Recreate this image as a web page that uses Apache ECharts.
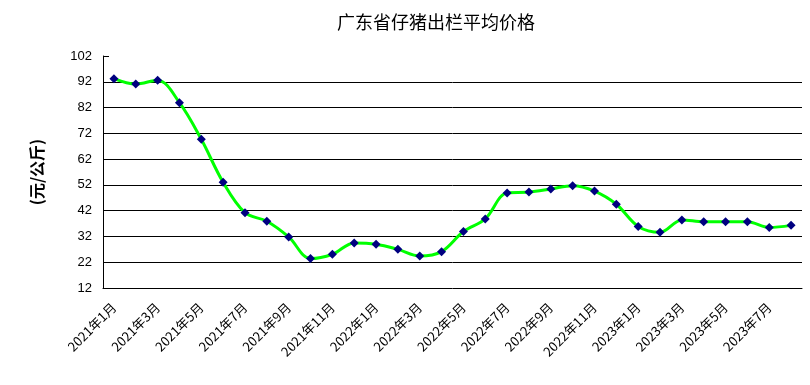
<!DOCTYPE html>
<html>
<head>
<meta charset="utf-8">
<script src="https://cdn.jsdelivr.net/npm/echarts@6/dist/echarts.min.js"></script>
<style>html,body{margin:0;padding:0;background:#fff}#c{width:810px;height:385px}</style>
</head>
<body>
<div id="c"></div>
<script>
const titleText = '广东省仔猪出栏平均价格';
const yAxisName = '(元/公斤)';
const months = ['2021年1月','2021年2月','2021年3月','2021年4月','2021年5月','2021年6月','2021年7月','2021年8月','2021年9月','2021年10月','2021年11月','2021年12月',
  '2022年1月','2022年2月','2022年3月','2022年4月','2022年5月','2022年6月','2022年7月','2022年8月','2022年9月','2022年10月','2022年11月','2022年12月',
  '2023年1月','2023年2月','2023年3月','2023年4月','2023年5月','2023年6月','2023年7月','2023年8月'];
const prices = [93.2,91.1,92.6,83.9,69.7,53.0,41.2,37.9,31.8,23.4,25.1,29.5,
  29.0,27.0,24.4,26.1,33.9,38.8,48.9,49.2,50.4,51.7,49.6,44.5,
  35.9,33.6,38.4,37.7,37.7,37.7,35.5,36.3];
const yMin = 12, yMax = 102, yStep = 10;

const chart = echarts.init(document.getElementById('c'), null, {renderer:'canvas'});
chart.setOption({
  animation: false,
  backgroundColor: '#fff',
  title: {
    text: titleText,
    left: 431, top: 8, textAlign: 'center',
    textStyle: {fontFamily: 'Noto Sans CJK SC', fontSize: 18, fontWeight: 'normal', color: '#000'}
  },
  grid: {left: 103, right: 8, top: 56, bottom: 97},
  xAxis: {
    type: 'category',
    data: months,
    boundaryGap: true,
    axisLine: {lineStyle: {color: '#000', width: 1}},
    axisTick: {inside: true, length: 6, interval: 1, lineStyle: {color: '#000'}},
    axisLabel: {interval: 1, rotate: 45, color: '#000', fontSize: 13, margin: 17,
      fontFamily: 'Noto Sans CJK SC'}
  },
  yAxis: {
    type: 'value',
    min: yMin, max: yMax, interval: yStep,
    name: yAxisName,
    nameLocation: 'middle',
    nameGap: 58,
    nameRotate: 90,
    nameTextStyle: {fontFamily: 'Noto Sans CJK SC', fontSize: 16, fontWeight: 'bold', color: '#000'},
    axisLine: {show: true, lineStyle: {color: '#000', width: 1}},
    axisTick: {show: true, inside: true, length: 6, lineStyle: {color: '#000'}},
    axisLabel: {color: '#000', fontSize: 13, margin: 11, fontFamily: 'Liberation Sans'},
    splitLine: {show: true, showMinLine: false, showMaxLine: false, lineStyle: {color: '#000', width: 1}}
  },
  series: [{
    type: 'line',
    data: prices,
    smooth: 0.35,
    symbol: 'diamond',
    symbolSize: 9,
    itemStyle: {color: '#000080'},
    lineStyle: {color: '#00ff00', width: 3}
  }]
});
</script>
</body>
</html>
